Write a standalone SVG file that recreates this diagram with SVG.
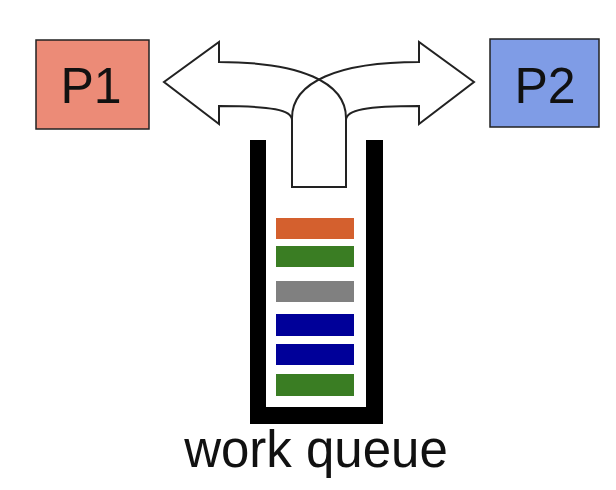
<svg xmlns="http://www.w3.org/2000/svg" width="616" height="490" viewBox="0 0 616 490">
<style>
.box{stroke:#222;stroke-width:1.5}
.lbl{font-family:"Liberation Sans",Arial,sans-serif;font-size:50px;fill:#111;text-anchor:middle}
.arr{fill:none;stroke:#222;stroke-width:2;stroke-linejoin:miter}
.bar{stroke:none}
</style>
<rect width="616" height="490" fill="#fff"/>
<g id="P1">
<rect class="box" x="36" y="40" width="113" height="89" fill="#EC8B77"/>
<text class="lbl" x="91" y="103">P1</text>
</g>
<g id="P2">
<rect class="box" x="490" y="39" width="109" height="88" fill="#7F9CE6"/>
<text class="lbl" x="545" y="103">P2</text>
</g>
<g id="connectors">
<path class="arr" d="M292,187 L292,120 C292,110 272,106 219,106 L219,124 L164,82 L219,42 L219,62 C300,62 346,82 346,118 L346,187 Z"/>
<path class="arr" d="M346,187 L346,120 C346,110 366,106 419,106 L419,124 L474,82 L419,42 L419,62 C338,62 292,82 292,118 L292,187 Z"/>
</g>
<g id="queue">
<path d="M250,140 L266,140 L266,407 L366,407 L366,140 L383,140 L383,424 L250,424 Z" fill="#000"/>
<rect class="bar" x="276" y="218" width="78" height="21" fill="#D4602E"/>
<rect class="bar" x="276" y="246" width="78" height="21" fill="#3A7D23"/>
<rect class="bar" x="276" y="281" width="78" height="21" fill="#808080"/>
<rect class="bar" x="276" y="314" width="78" height="22" fill="#000099"/>
<rect class="bar" x="276" y="344" width="78" height="21" fill="#000099"/>
<rect class="bar" x="276" y="374" width="78" height="22" fill="#3A7D23"/>
<text class="lbl" x="316" y="467" style="font-size:51px">work queue</text>
</g>
</svg>
